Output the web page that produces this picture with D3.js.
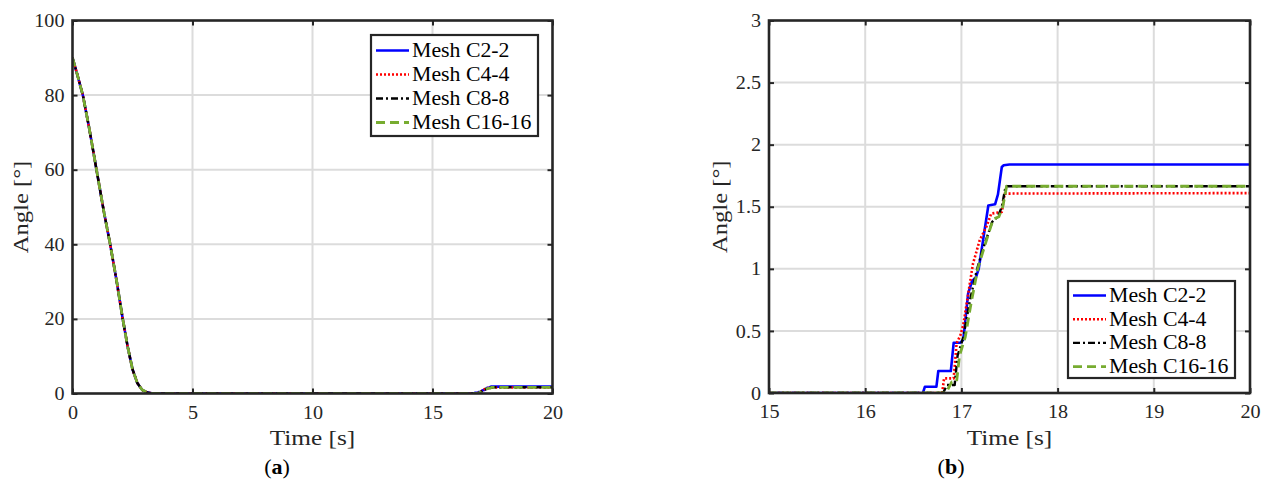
<!DOCTYPE html>
<html>
<head>
<meta charset="utf-8">
<script src="https://cdn.jsdelivr.net/npm/d3@7"></script>
<style>
  html, body { margin: 0; padding: 0; background: #fff; }
  svg { display: block; }
  svg text { font-family: "Liberation Serif", "Times New Roman", serif; fill: #262626; }
</style>
</head>
<body>
<svg id="chart" width="1266" height="484"></svg>
<script>
// Release phase (same for every mesh at this scale)
const descentTime  = [0, 0.2, 0.43, 0.7, 1.0, 1.3, 1.57, 1.83, 2.08, 2.3, 2.5, 2.7, 2.9, 3.1, 3.3, 3.5];
const descentAngle = [90, 85.5, 80, 71, 60, 49, 40, 30.5, 20.5, 12.5, 6.5, 2.8, 1.0, 0.3, 0.05, 0];

// Late rise for each mesh
const c2Time   = [16.60, 16.62, 16.74, 16.76, 16.89, 16.92, 16.99, 17.02, 17.07, 17.11, 17.15, 17.18, 17.28, 17.35, 17.38, 17.42, 17.44, 17.50, 20];
const c2Angle  = [0, 0.05, 0.05, 0.177, 0.177, 0.405, 0.405, 0.43, 0.80, 0.90, 0.93, 1.0, 1.51, 1.52, 1.60, 1.82, 1.834, 1.84, 1.84];
const c4Time   = [16.80, 16.82, 16.92, 16.95, 16.99, 17.02, 17.12, 17.19, 17.26, 17.31, 17.42, 17.45, 20];
const c4Angle  = [0, 0.118, 0.118, 0.40, 0.466, 0.55, 1.04, 1.23, 1.34, 1.445, 1.458, 1.606, 1.61];
const c8Time   = [16.81, 16.85, 16.93, 16.96, 17.02, 17.09, 17.16, 17.22, 17.32, 17.38, 17.42, 17.46, 20];
const c8Angle  = [0, 0.064, 0.064, 0.30, 0.45, 0.75, 0.99, 1.15, 1.378, 1.42, 1.50, 1.665, 1.665];
const c16Time  = [16.84, 16.90, 16.95, 16.98, 17.04, 17.10, 17.17, 17.24, 17.33, 17.39, 17.43, 17.47, 20];
const c16Angle = [0, 0.09, 0.09, 0.30, 0.45, 0.72, 1.0, 1.18, 1.40, 1.42, 1.50, 1.665, 1.665];

const seriesNames = ["Mesh C2-2", "Mesh C4-4", "Mesh C8-8", "Mesh C16-16"];
const xTicksA = [0, 5, 10, 15, 20];
const yTicksA = [0, 20, 40, 60, 80, 100];
const xTicksB = [15, 16, 17, 18, 19, 20];
const yTicksB = [0, 0.5, 1, 1.5, 2, 2.5, 3];

const styles = [
  { color: "#0000ff", width: 2.6, dash: null },
  { color: "#ff0000", width: 2.6, dash: "2,2" },
  { color: "#000000", width: 2.4, dash: "7,3,2,3" },
  { color: "#77ac30", width: 2.8, dash: "9,5" }
];

function build(t, a) {
  const pts = descentTime.map((d, i) => [d, descentAngle[i]]);
  t.forEach((d, i) => pts.push([d, a[i]]));
  return pts;
}
const series = [
  build(c2Time, c2Angle),
  build(c4Time, c4Angle),
  build(c8Time, c8Angle),
  build(c16Time, c16Angle)
];

const svg = d3.select("#chart");
const AX = "#262626";

// widen the serif glyphs a little, book-style
function widen(sel, k) {
  sel.each(function () {
    const len = this.getComputedTextLength();
    d3.select(this).attr("textLength", len * k).attr("lengthAdjust", "spacingAndGlyphs");
  });
}

function panel(cfg) {
  const g = svg.append("g");
  const x = d3.scaleLinear().domain(cfg.xDomain).range([cfg.left, cfg.right]);
  const y = d3.scaleLinear().domain(cfg.yDomain).range([cfg.bottom, cfg.top]);

  const clipId = "clip-" + cfg.id;
  svg.append("clipPath").attr("id", clipId).append("rect")
    .attr("x", cfg.left).attr("y", cfg.top)
    .attr("width", cfg.right - cfg.left).attr("height", cfg.bottom - cfg.top);

  // grid
  g.selectAll(".gx").data(cfg.xTicks.slice(1, -1)).join("line")
    .attr("x1", d => x(d)).attr("x2", d => x(d))
    .attr("y1", cfg.top).attr("y2", cfg.bottom)
    .attr("stroke", "#dcdcdc").attr("stroke-width", 2);
  g.selectAll(".gy").data(cfg.yTicks.slice(1, -1)).join("line")
    .attr("y1", d => y(d)).attr("y2", d => y(d))
    .attr("x1", cfg.left).attr("x2", cfg.right)
    .attr("stroke", "#dcdcdc").attr("stroke-width", 2);

  // curves
  const line = d3.line().x(d => x(d[0])).y(d => y(d[1]));
  const lines = g.append("g").attr("clip-path", `url(#${clipId})`);
  series.forEach((s, i) => {
    const st = styles[i];
    lines.append("path").datum(s)
      .attr("d", line)
      .attr("fill", "none")
      .attr("stroke", st.color)
      .attr("stroke-width", st.width)
      .attr("stroke-dasharray", st.dash)
      .attr("stroke-linejoin", "round");
  });

  // axes with inward ticks on all sides
  const tl = 5;
  const mk = (axis, tr) => g.append("g").attr("transform", tr).call(axis)
    .attr("font-family", null).attr("font-size", null)
    .call(s => { s.select(".domain").remove(); s.selectAll("line").attr("stroke", AX).attr("stroke-width", 2); });
  const fmt = cfg.fmt;
  const bx = mk(d3.axisBottom(x).tickValues(cfg.xTicks).tickSize(-tl).tickPadding(12).tickFormat(fmt), `translate(0,${cfg.bottom})`);
  bx.selectAll("text").attr("font-size", 19).attr("fill", AX).call(widen, 1.06);
  mk(d3.axisTop(x).tickValues(cfg.xTicks).tickSize(-tl).tickFormat(""), `translate(0,${cfg.top})`);
  const ly = mk(d3.axisLeft(y).tickValues(cfg.yTicks).tickSize(-tl).tickPadding(8).tickFormat(fmt), `translate(${cfg.left},0)`);
  ly.selectAll("text").attr("font-size", 19).attr("fill", AX).call(widen, 1.06);
  mk(d3.axisRight(y).tickValues(cfg.yTicks).tickSize(-tl).tickFormat(""), `translate(${cfg.right},0)`);

  // frame
  g.append("rect")
    .attr("x", cfg.left).attr("y", cfg.top)
    .attr("width", cfg.right - cfg.left).attr("height", cfg.bottom - cfg.top)
    .attr("fill", "none").attr("stroke", AX).attr("stroke-width", 2.6);

  // axis titles
  g.append("text").attr("x", (cfg.left + cfg.right) / 2).attr("y", 445)
    .attr("text-anchor", "middle").attr("font-size", 22).text("Time [s]").call(widen, 1.15);
  g.append("text")
    .attr("transform", `translate(${cfg.yLabelX},${(cfg.top + cfg.bottom) / 2}) rotate(-90)`)
    .attr("text-anchor", "middle").attr("font-size", 22).text("Angle [°]").call(widen, 1.12);

  // sub-caption
  const cap = g.append("text").attr("x", cfg.capX).attr("y", 474)
    .attr("text-anchor", "middle").attr("font-size", 22).style("fill", "#000");
  cap.append("tspan").text("(");
  cap.append("tspan").attr("font-weight", "bold").text(cfg.cap);
  cap.append("tspan").text(")");

  // legend
  const L = cfg.legend;
  const lg = g.append("g");
  lg.append("rect").attr("x", L.x).attr("y", L.y).attr("width", L.w).attr("height", L.h)
    .attr("fill", "#fff").attr("stroke", AX).attr("stroke-width", 2.2);
  seriesNames.forEach((name, i) => {
    const cy = L.y + L.first + i * L.step;
    const st = styles[i];
    lg.append("line")
      .attr("x1", L.x + 5).attr("x2", L.x + 38).attr("y1", cy).attr("y2", cy)
      .attr("stroke", st.color).attr("stroke-width", st.width)
      .attr("stroke-dasharray", st.dash);
    lg.append("text").attr("x", L.x + 41).attr("y", cy + 6.5)
      .attr("font-size", 20).style("fill", "#000").text(name).call(widen, 1.09);
  });
}

panel({
  id: "a", left: 72.5, right: 552.5, top: 20.5, bottom: 393.5,
  xDomain: [0, 20], yDomain: [0, 100], xTicks: xTicksA, yTicks: yTicksA,
  fmt: d3.format("d"), yLabelX: 28, capX: 277, cap: "a",
  legend: { x: 371, y: 35, w: 167, h: 101, first: 15.5, step: 24 }
});
panel({
  id: "b", left: 769, right: 1250, top: 20.5, bottom: 393,
  xDomain: [15, 20], yDomain: [0, 3], xTicks: xTicksB, yTicks: yTicksB,
  fmt: d => String(d), yLabelX: 727, capX: 951, cap: "b",
  legend: { x: 1068, y: 281, w: 167, h: 97, first: 14.5, step: 23.7 }
});
</script>
</body>
</html>
